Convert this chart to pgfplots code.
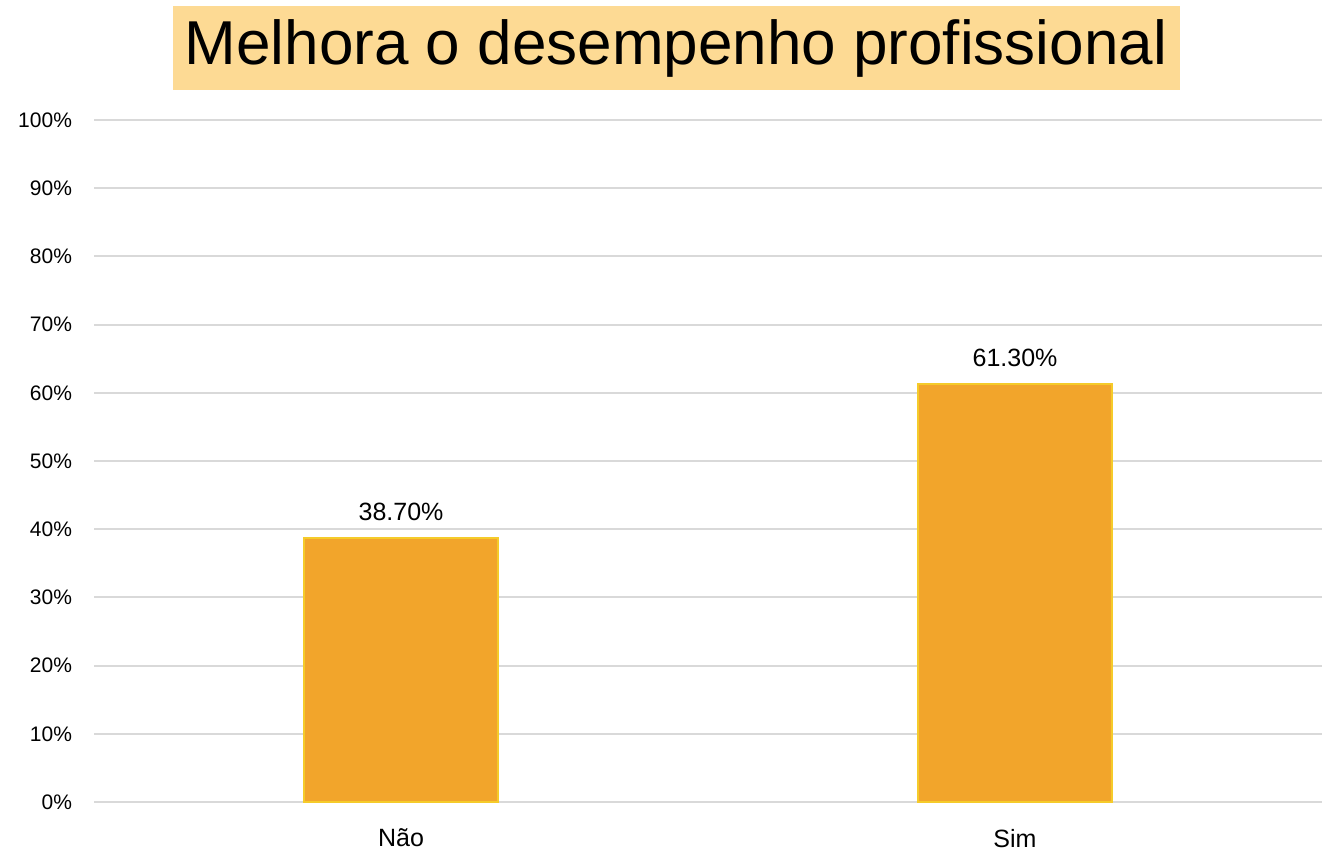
\documentclass[border=0pt]{standalone}
\usepackage{pgfplots}
\pgfplotsset{compat=1.18}
\usepackage{fontspec}
\setmainfont{Liberation Sans}
\definecolor{barfill}{HTML}{F2A52B}
\definecolor{baredge}{HTML}{F5CB2A}
\definecolor{titlebg}{HTML}{FDDA94}
\definecolor{gridc}{HTML}{D9D9D9}
\begin{document}
\begin{tikzpicture}[x=1pt,y=1pt]
\useasboundingbox (0,0) rectangle (661,427);
\begin{axis}[
  at={(47pt,26pt)},anchor=south west,
  scale only axis,
  width=614pt,height=341pt,
  xmin=-0.5,xmax=1.5,ymin=0,ymax=100,
  xtick={0,1},xticklabels={Não,Sim},
  ytick={0,10,...,100},
  yticklabel={\pgfmathprintnumber{\tick}\%},
  ymajorgrids,
  grid style={gridc,line width=1pt},
  axis line style={draw=none},
  major tick length=0pt,
  tick label style={font=\fontsize{10.5}{12}\selectfont},
  yticklabel style={/pgf/number format/assume math mode=true,xshift=-7.5pt},
  xticklabel style={font=\fontsize{12.5}{14}\selectfont,yshift=-10pt},
  /pgf/number format/assume math mode=true,
  nodes near coords={\pgfmathprintnumber[fixed,fixed zerofill,precision=2]{\pgfplotspointmeta}\%},
  nodes near coords style={font=\fontsize{12.5}{14}\selectfont,yshift=5pt},
  clip=false,
]
\addplot[ybar,bar width=97pt,fill=barfill,draw=baredge,line width=0.8pt] coordinates {(0,38.7) (1,61.3)};
\end{axis}
\node[fill=titlebg,minimum width=503.5pt,minimum height=42pt,inner sep=0pt,font=\fontsize{31}{35}\selectfont] at (338,403) {Melhora o desempenho profissional};
\end{tikzpicture}
\end{document}
